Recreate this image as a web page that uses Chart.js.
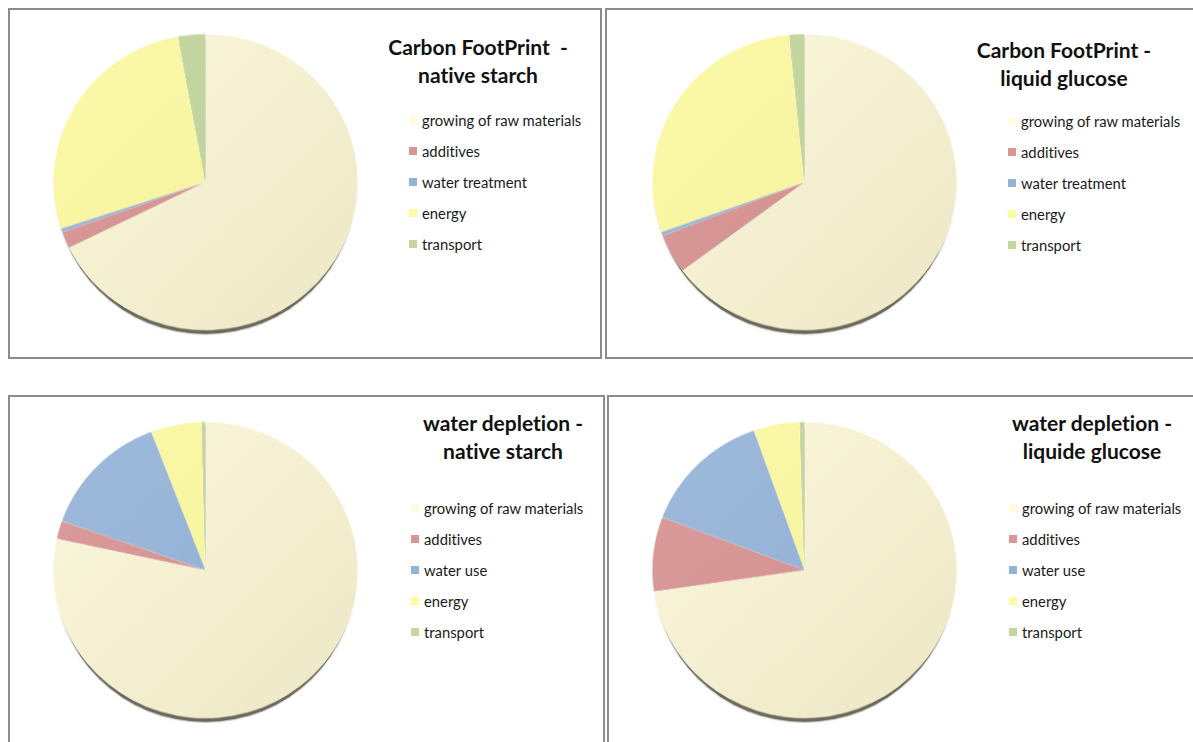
<!DOCTYPE html>
<html>
<head>
<meta charset="utf-8">
<script src="https://cdn.jsdelivr.net/npm/chart.js@4.4.1/dist/chart.umd.min.js"></script>
<style>
  html, body { margin: 0; padding: 0; background: #fff; }
  body { width: 1193px; height: 742px; position: relative; overflow: hidden; font-family: Lato, "Open Sans", sans-serif; font-variant-ligatures: none; }
  .panel { position: absolute; box-sizing: border-box; border: 2px solid #8c8c8c; background: #fff; }
  .pie { position: absolute; }
  .title { position: absolute; font-weight: bold; font-size: 21px; line-height: 28px; color: #111; text-align: center; white-space: pre; transform: translateX(-50%); }
  .legend { position: absolute; font-size: 14.8px; color: #1a1a1a; }
  .legend .row { height: 31.2px; display: flex; align-items: center; white-space: nowrap; }
  .legend .sw { width: 8px; height: 8px; margin-right: 5px; flex: none; }
</style>
</head>
<body>
<div class="panel" style="left:8px;top:8px;width:594px;height:351px"></div>
<div class="panel" style="left:605px;top:8px;width:620px;height:351px"></div>
<div class="panel" style="left:8px;top:395px;width:597px;height:380px"></div>
<div class="panel" style="left:607px;top:395px;width:620px;height:380px"></div>

<script>
const carbonCategories = ['growing of raw materials', 'additives', 'water treatment', 'energy', 'transport'];
const waterCategories = ['growing of raw materials', 'additives', 'water use', 'energy', 'transport'];

// shares in %
const carbonNativeStarch = [67.7, 1.8, 0.4, 27.2, 2.9];
const carbonLiquidGlucose = [64.8, 4.3, 0.4, 28.9, 1.6];
const waterNativeStarch = [78.4, 2.0, 13.8, 5.4, 0.4];
const waterLiquideGlucose = [72.7, 8.1, 13.8, 4.9, 0.5];

const titleCarbonNative = ['Carbon FootPrint  -', 'native starch'];
const titleCarbonGlucose = ['Carbon FootPrint -', 'liquid glucose'];
const titleWaterNative = ['water depletion -', 'native starch'];
const titleWaterGlucose = ['water depletion -', 'liquide glucose'];

// slice fill: [left, right] of a soft diagonal gradient
const sliceShades = [
  ['#fcf8dd', '#ede7c5'],
  ['#dd9d9c', '#cf8d8d'],
  ['#9ebbdc', '#8eacd2'],
  ['#fcfaa9', '#f2f099'],
  ['#c7d9a3', '#bbce97']
];
const swatchColors = ['#fdfbe0', '#d99694', '#95b3d7', '#fbfb9f', '#c3d69b'];

const panels = [
  { labels: carbonCategories, data: carbonNativeStarch, title: titleCarbonNative, cx: 205, cy: 182, titleX: 478, titleY: 33, swX: 409, legY: 104 },
  { labels: carbonCategories, data: carbonLiquidGlucose, title: titleCarbonGlucose, cx: 804, cy: 182, titleX: 1064, titleY: 36, swX: 1008, legY: 105 },
  { labels: waterCategories, data: waterNativeStarch, title: titleWaterNative, cx: 205, cy: 570, titleX: 503, titleY: 409, swX: 411, legY: 492 },
  { labels: waterCategories, data: waterLiquideGlucose, title: titleWaterGlucose, cx: 804, cy: 570, titleX: 1092, titleY: 409, swX: 1009, legY: 492 }
];

const R = 152.5, PAD = 12;
const SQUASH = 0.97; // pie is seen slightly tilted

const pieShadow = {
  id: 'pieShadow',
  beforeDatasetsDraw(chart) {
    const arc = chart.getDatasetMeta(0).data[0];
    if (!arc) return;
    const { x, y, outerRadius } = arc;
    const ctx = chart.ctx;
    ctx.save();
    ctx.fillStyle = '#6a695a';
    ctx.shadowColor = 'rgba(70,70,55,0.6)';
    ctx.shadowBlur = 2;
    ctx.beginPath();
    ctx.ellipse(x, y + 4.5, outerRadius - 2, outerRadius - 0.5, 0, 0, Math.PI * 2);
    ctx.fill();
    ctx.restore();
  }
};

function sliceFill(context) {
  const { chart, dataIndex } = context;
  const area = chart.chartArea;
  const shade = sliceShades[dataIndex];
  if (!area) return shade[0];
  const g = chart.ctx.createLinearGradient(area.left, area.top, area.right, area.bottom);
  g.addColorStop(0, shade[0]);
  g.addColorStop(1, shade[1]);
  return g;
}

function makeTitle(p) {
  const div = document.createElement('div');
  div.className = 'title';
  div.style.left = p.titleX + 'px';
  div.style.top = p.titleY + 'px';
  div.textContent = p.title.join('\n');
  document.body.appendChild(div);
}

function makeLegend(p) {
  const div = document.createElement('div');
  div.className = 'legend';
  div.style.left = p.swX + 'px';
  div.style.top = p.legY + 'px';
  div.innerHTML = p.labels.map((l, i) =>
    `<div class="row"><span class="sw" style="background:${swatchColors[i]}"></span><span>${l}</span></div>`
  ).join('');
  document.body.appendChild(div);
}

function makePie(p) {
  const size = Math.round(2 * (R + PAD));
  const canvas = document.createElement('canvas');
  canvas.className = 'pie';
  canvas.width = size;
  canvas.height = size;
  canvas.style.width = size + 'px';
  canvas.style.height = (size * SQUASH) + 'px';
  canvas.style.left = (p.cx - size / 2) + 'px';
  canvas.style.top = (p.cy - size * SQUASH / 2) + 'px';
  document.body.appendChild(canvas);

  new Chart(canvas.getContext('2d'), {
    type: 'pie',
    data: {
      labels: p.labels,
      datasets: [{
        data: p.data,
        backgroundColor: sliceFill,
        borderWidth: 0.5,
        borderColor: 'rgba(255,255,255,0.55)'
      }]
    },
    options: {
      responsive: false,
      animation: false,
      devicePixelRatio: 1,
      layout: { padding: PAD },
      plugins: {
        legend: { display: false },
        tooltip: { enabled: false }
      }
    },
    plugins: [pieShadow]
  });
}

for (const p of panels) {
  makePie(p);
  makeTitle(p);
  makeLegend(p);
}
</script>
</body>
</html>
